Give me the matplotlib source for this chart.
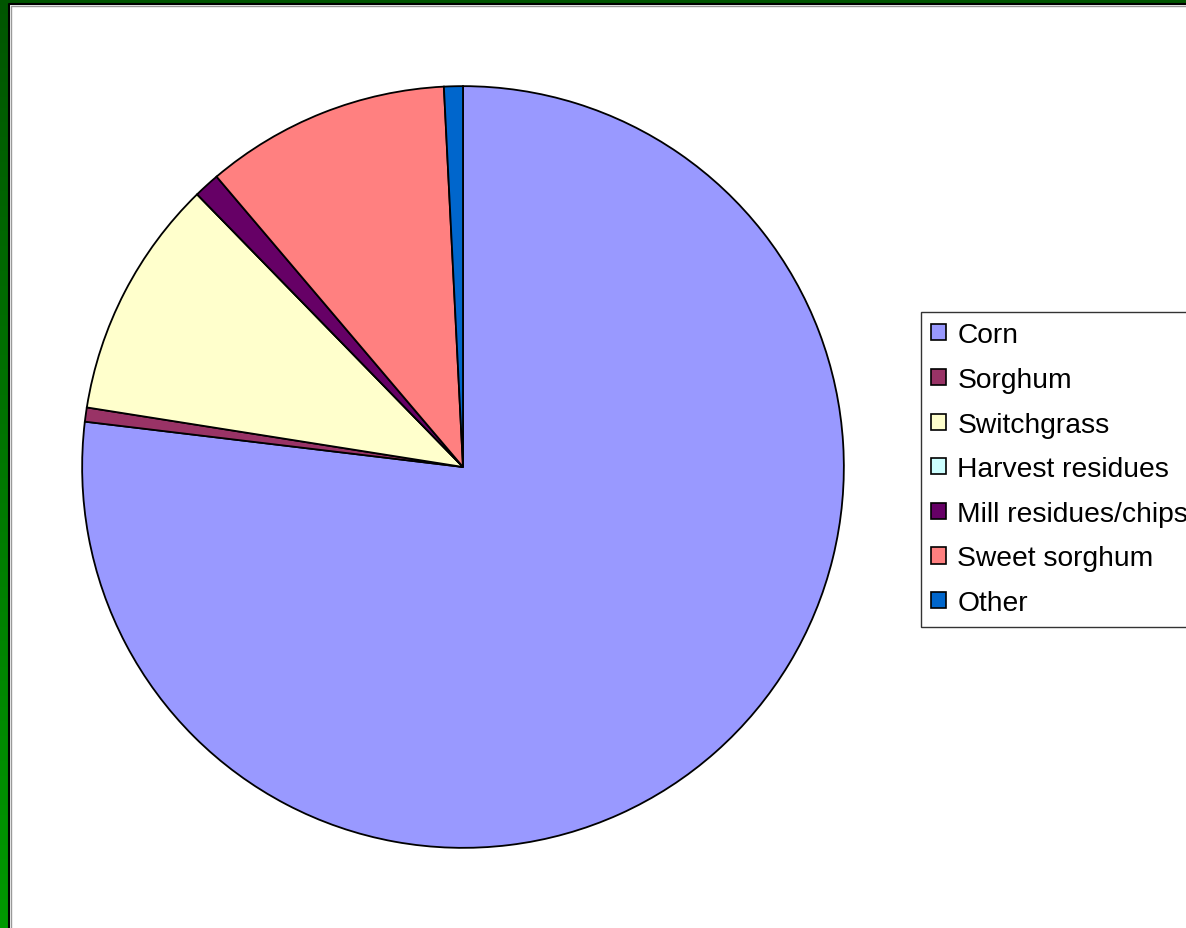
import numpy as np
import matplotlib.pyplot as plt
from matplotlib.patches import Rectangle
from matplotlib.colors import LinearSegmentedColormap

# Feedstock shares (%)
labels = ['Corn', 'Sorghum', 'Switchgrass', 'Harvest residues',
          'Mill residues/chips', 'Sweet sorghum', 'Other']
shares = [76.9, 0.6, 10.2, 0.0, 1.1, 10.4, 0.8]
colors = ['#9999FF', '#993366', '#FFFFCC', '#CCFFFF',
          '#660066', '#FF8080', '#0066CC']

W, H = 1186, 929
fig = plt.figure(figsize=(W / 100, H / 100), dpi=100)

# green frame with a vertical gradient
bg = fig.add_axes([0, 0, 1, 1])
grad = np.linspace(0, 1, 256).reshape(-1, 1)
cmap = LinearSegmentedColormap.from_list('g', ['#005500', '#009900'])
bg.imshow(grad, aspect='auto', cmap=cmap, extent=[0, W, H, 0])
bg.set_xlim(0, W)
bg.set_ylim(H, 0)
bg.add_patch(Rectangle((10, 6), W, H, facecolor='white', edgecolor='none'))
bg.plot([9, 9, W], [H, 5, 5], color='black', lw=1.5)
bg.plot([10.5, 10.5, W], [H, 6.5, 6.5], color='#999999', lw=1)
bg.axis('off')

# pie
cx, cy, r = 463, 468, 382
ax = fig.add_axes([(cx - r) / W, (H - cy - r) / H, 2 * r / W, 2 * r / H])
wedges, _ = ax.pie(shares, colors=colors, startangle=90, counterclock=False,
                   radius=1, wedgeprops={'edgecolor': 'black', 'linewidth': 1.3})
ax.set_xlim(-1.003, 1.003)
ax.set_ylim(-1.003, 1.003)
ax.set_aspect('equal')
ax.axis('off')

leg = fig.legend(wedges, labels, loc='upper left',
                 bbox_to_anchor=(921 / W, 1 - 313 / H),
                 prop={'family': 'Liberation Sans', 'size': 20.3},
                 frameon=True, fancybox=False, shadow=False,
                 edgecolor='black', borderaxespad=0, borderpad=0.37,
                 handlelength=0.5, handleheight=0.5, handletextpad=0.42,
                 labelspacing=0.66)
leg.get_frame().set_linewidth(1)
for h in leg.legend_handles:
    h.set_edgecolor('black')
    h.set_linewidth(1.2)

fig.savefig('out.png', dpi=100)
